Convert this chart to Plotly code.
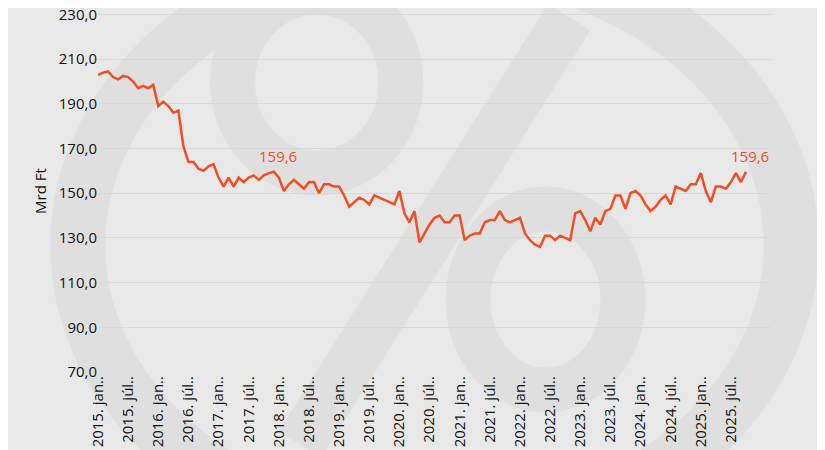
import plotly.graph_objects as go

years = list(range(2015, 2026))
month_names = ["jan.", "febr.", "márc.", "ápr.", "máj.", "jún.", "júl.", "aug.", "szept.", "okt.", "nov.", "dec."]
values = [
    203, 204, 204.5, 202, 201, 202.5, 202, 200, 197, 198, 197, 198.5,
    189, 191, 189, 186, 187, 171, 164, 164, 161, 160, 162, 163,
    157, 153, 157, 153, 157, 155, 157, 158, 156, 158, 159, 159.6,
    157, 151, 154, 156, 154, 152, 155, 155, 150, 154, 154, 153,
    153, 149, 144, 146, 148, 147, 145, 149, 148, 147, 146, 145,
    151, 141, 137, 142, 128, 132, 136, 139, 140, 137, 137, 140,
    140, 129, 131, 132, 132, 137, 138, 138, 142, 138, 137, 138,
    139, 132, 129, 127, 126, 131, 131, 129, 131, 130, 129, 141,
    142, 138, 133, 139, 136, 142, 143, 149, 149, 143, 150, 151,
    149, 145, 142, 144, 147, 149, 145, 153, 152, 151, 154, 154,
    159, 151, 146, 153, 153, 152, 155, 159, 155, 159.6,
]
categories = [f"{y}. {m}" for y in years for m in month_names][:len(values)]
tick_vals = [c for c in categories if c.endswith("jan.") or c.endswith("júl.")]
tick_text = [c + "." for c in tick_vals]
y_ticks = [70, 90, 110, 130, 150, 170, 190, 210, 230]

fig = go.Figure()
grey = "#dfdfdf"
# watermark
fig.add_shape(type="circle", xref="paper", yref="paper", x0=-0.03, x1=1.03, y0=-0.45, y1=1.15,
              line=dict(color=grey, width=55), layer="below")
fig.add_shape(type="circle", xref="paper", yref="paper", x0=0.2, x1=0.45, y0=0.55, y1=1.05,
              line=dict(color=grey, width=45), layer="below")
fig.add_shape(type="circle", xref="paper", yref="paper", x0=0.55, x1=0.78, y0=-0.05, y1=0.45,
              line=dict(color=grey, width=45), layer="below")
fig.add_shape(type="line", xref="paper", yref="paper", x0=0.3, x1=0.7, y0=-0.2, y1=0.98,
              line=dict(color=grey, width=50), layer="below")

fig.add_trace(go.Scatter(x=categories, y=values, mode="lines",
                         line=dict(color="#F04E23", width=2.5), hoverinfo="skip", cliponaxis=False))
for idx in [35, len(values) - 1]:
    fig.add_annotation(x=categories[idx], y=values[idx], text=f"{values[idx]:.1f}".replace(".", ","),
                       showarrow=False, yshift=16, xshift=4,
                       font=dict(color="#F04E23", size=15, family="Open Sans"))

fig.update_layout(
    width=825, height=450,
    paper_bgcolor="#e8e8e8", plot_bgcolor="rgba(0,0,0,0)",
    margin=dict(l=90, r=62, t=2, b=86),
    showlegend=False,
    font=dict(family="Open Sans", color="#111", size=14),
)
fig.update_xaxes(type="category", tickmode="array", tickvals=tick_vals, ticktext=tick_text,
                 tickangle=-90, showgrid=False, automargin=False, ticks="",
                 tickfont=dict(size=15))
fig.update_yaxes(range=[70, 232], tickvals=y_ticks,
                 ticktext=[f"{v},0" for v in y_ticks], ticklabeloverflow="allow",
                 gridcolor="#d8d8d8", zeroline=False, automargin=False,
                 title=dict(text="Mrd Ft", font=dict(size=15), standoff=8),
                 tickfont=dict(size=15))
fig.write_html("out.html")
